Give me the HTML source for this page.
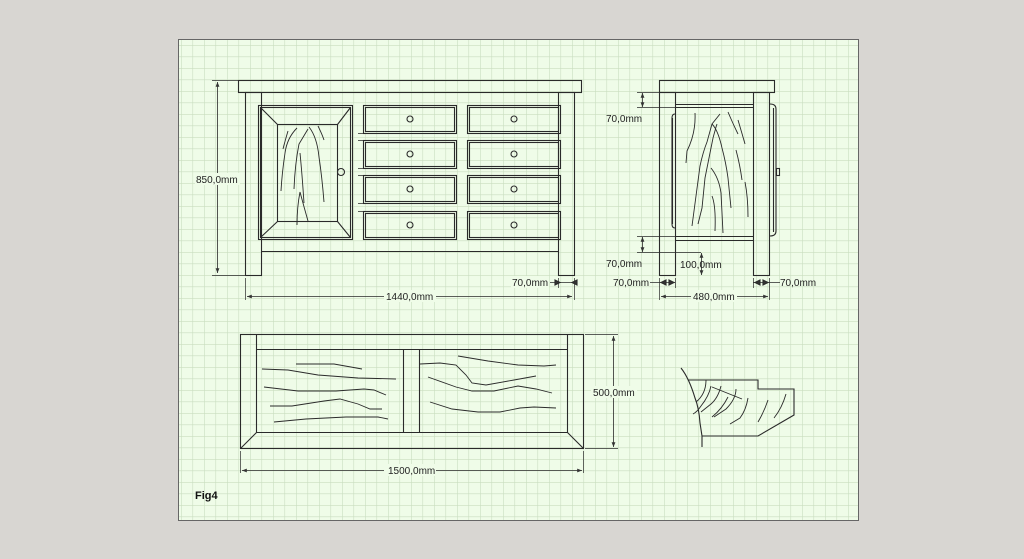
<!DOCTYPE html>
<html><head><meta charset="utf-8"><style>
html,body{margin:0;padding:0;background:#d8d6d2;width:1024px;height:559px;overflow:hidden}
svg{position:absolute;left:0;top:0}
text{font-family:"Liberation Sans",sans-serif;font-size:10px;fill:#222}
</style></head><body>
<svg width="1024" height="559" viewBox="0 0 1024 559">
<defs>
<pattern id="g" x="181" y="45" width="11.5" height="11.5" patternUnits="userSpaceOnUse">
<path d="M0 0V11.5M0 0H11.5" stroke="#c9ddbf" stroke-width="1.2" fill="none"/>
</pattern>
<marker id="a" viewBox="0 0 10 10" refX="10" refY="5" markerWidth="8" markerHeight="6" orient="auto-start-reverse"><path d="M0 1L10 5L0 9z" fill="#333"/></marker>
</defs>
<rect x="178.5" y="39.5" width="680" height="481" fill="#effce8" stroke="#666"/>
<rect x="179" y="40" width="679" height="480" fill="url(#g)"/>
<g stroke="#2a2a2a" stroke-width="1.1" fill="none">
<!-- FRONT -->
<rect x="238.5" y="80.5" width="343" height="12"/>
<rect x="245.5" y="92.5" width="16" height="183"/>
<rect x="558.5" y="92.5" width="16" height="183"/>
<path d="M261.5 251.5H558.5"/>
<rect x="258.5" y="105.5" width="94" height="134"/>
<rect x="260.5" y="107.5" width="90" height="130"/>
<rect x="277.5" y="124.5" width="60" height="97"/>
<path d="M260.5 107.5L277.5 124.5M350.5 107.5L337.5 124.5M260.5 237.5L277.5 221.5M350.5 237.5L337.5 221.5"/>
<circle cx="341" cy="172" r="3.5"/>
<g id="dr">
<rect x="363.5" y="105.5" width="93" height="28"/><rect x="365.5" y="107.5" width="89" height="24"/>
<rect x="363.5" y="140.5" width="93" height="28"/><rect x="365.5" y="142.5" width="89" height="24"/>
<rect x="363.5" y="175.5" width="93" height="28"/><rect x="365.5" y="177.5" width="89" height="24"/>
<rect x="363.5" y="211.5" width="93" height="28"/><rect x="365.5" y="213.5" width="89" height="24"/>
<circle cx="410" cy="119" r="3"/><circle cx="410" cy="154" r="3"/><circle cx="410" cy="189" r="3"/><circle cx="410" cy="225" r="3"/>
</g>
<use href="#dr" x="104"/>
<path d="M358 133.5h5M358 140.5h5M358 168.5h5M358 175.5h5M358 203.5h5M358 211.5h5" stroke-width="0.7"/>
<path d="M288 131q-3 10-5 18M297 128q-10 10-12 25q-3 20-4 38M308 129l-9 15q-4 20-5 45M309 127q8 10 10 30q3 20 5 45M318 126q4 8 6 14M300 153q2 20 4 50M300 192q-3 15-3 33M300 192q4 15 8 29" stroke-width="0.9"/>
<path d="M212 80.5h26M212 275.5h33M245.5 278v22M574.5 278v22M558.5 278v10" stroke-width="0.7"/>
<path d="M217.5 82V273" marker-start="url(#a)" marker-end="url(#a)" stroke-width="0.8"/>
<path d="M247 296.5H572" marker-start="url(#a)" marker-end="url(#a)" stroke-width="0.8"/>
<path d="M550 282.5H558M560 282.5H572" stroke-width="0.8"/>
<path d="M560 282.5l-5-2.5v5zM572 282.5l5-2.5v5z" fill="#333"/>
<!-- SIDE -->
<rect x="659.5" y="80.5" width="115" height="12"/>
<rect x="659.5" y="92.5" width="16" height="183"/>
<rect x="753.5" y="92.5" width="16" height="183"/>
<path d="M675.5 104.5H753.5M675.5 107.5H753.5M675.5 236.5H753.5M675.5 240.5H753.5"/>
<path d="M675 114q-3 0-3 4v106q0 4 3 4M672.5 118v106"/>
<path d="M770 104q6 0 6 5v122q0 5-6 5M773.5 108v124"/>
<rect x="776.5" y="168.5" width="3" height="7"/>
<path d="M695 113q1 20-8 38l-1 12M720 114l-8 10-5 18q-4 10-7 24l-4 30-4 30M712 124q6 6 10 24q4 15 6 30l3 30M717 124q-4 12-6 24l-6 30-3 30-4 16M728 112q6 14 10 22M738 120q3 10 7 24M711 168q8 10 10 25l2 40M712 196q4 10 3 35M736 150q4 15 6 30M745 182q3 15 3 35" stroke-width="0.9"/>
<path d="M637 92.5h38M637 107.5h38M637 236.5h38M637 252.5h64M659.5 278v22M769.5 278v22M675.5 278v10M753.5 278v10" stroke-width="0.7"/>
<path d="M642.5 93V107" marker-start="url(#a)" marker-end="url(#a)" stroke-width="0.8"/>
<path d="M642.5 237V252" marker-start="url(#a)" marker-end="url(#a)" stroke-width="0.8"/>
<path d="M701.5 253V275" marker-start="url(#a)" marker-end="url(#a)" stroke-width="0.8"/>
<path d="M661 296.5H768" marker-start="url(#a)" marker-end="url(#a)" stroke-width="0.8"/>
<path d="M650 282.5H675M753 282.5H780" stroke-width="0.8"/>
<path d="M661 282.5l5-2.5v5zM674 282.5l-5-2.5v5zM755 282.5l5-2.5v5zM768 282.5l-5-2.5v5z" fill="#333"/>
<!-- TOP VIEW -->
<rect x="240.5" y="334.5" width="343" height="114"/>
<path d="M256.5 334.5V432.5H567.5V334.5M256.5 349.5H567.5M403.5 349.5V432.5M419.5 349.5V432.5M240.5 448.5L256.5 432.5M583.5 448.5L567.5 432.5"/>
<path d="M262 369l26 1 30 5 40 3 38 1M296 364h38l28 5M264 387l34 4h38l28-2 10 1 12 5M270 406h22l32-5 16-2 18 5 12 5h12M274 422l32-3 40-2h32l10 2M420 364l20-1 16 2 10 10 6 8 14 2 28-5 22-4M428 377l28 10 16 4h22l24-5 18 3 16 4M430 402l22 7 26 3h22l20-4 14-1 22 1M458 356l30 5 30 4 26 1 12-1" stroke-width="0.9"/>
<path d="M585 334.5h33M585 448.5h33M240.5 451v22M583.5 451v22" stroke-width="0.7"/>
<path d="M613.5 336V447" marker-start="url(#a)" marker-end="url(#a)" stroke-width="0.8"/>
<path d="M242 470.5H582" marker-start="url(#a)" marker-end="url(#a)" stroke-width="0.8"/>
<!-- DETAIL -->
<path d="M688 380H758V389H794V415L758 436H702"/>
<path d="M681 368q8 10 14 30q4 10 5 25l2 13v11"/>
<path d="M706 380q0 14-10 22M711 386q-2 10-10 20q-4 6-8 8M712 387l30 12M721 386q-3 12-10 18l-10 8M736 389q0 10-10 20l-12 8M728 397q-6 12-16 20M748 398q-2 12-8 20l-10 6M768 400q-4 12-10 22M786 394q-4 14-12 24" stroke-width="0.9"/>
</g>
<g stroke="none" fill="#effce8">
<rect x="195" y="173" width="45" height="12"/>
<rect x="384" y="290" width="52" height="12"/>
<rect x="511" y="276" width="38" height="12"/>
<rect x="691" y="290" width="46" height="12"/>
<rect x="384" y="464" width="52" height="12"/>
<rect x="591" y="386" width="46" height="12"/>
</g>
<text x="196" y="183">850,0mm</text>
<text x="386" y="300">1440,0mm</text>
<text x="512" y="286">70,0mm</text>
<text x="606" y="122">70,0mm</text>
<text x="606" y="267">70,0mm</text>
<text x="680" y="268">100,0mm</text>
<text x="613" y="286">70,0mm</text>
<text x="780" y="286">70,0mm</text>
<text x="693" y="300">480,0mm</text>
<text x="593" y="396">500,0mm</text>
<text x="388" y="474">1500,0mm</text>
<text x="195" y="499" style="font-weight:bold;font-size:11px;fill:#111">Fig4</text>
</svg>
</body></html>
